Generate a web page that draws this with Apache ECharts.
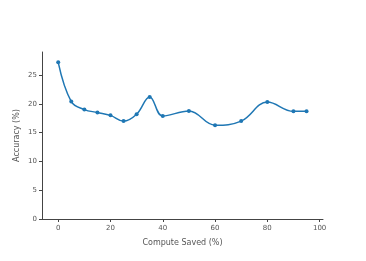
<!DOCTYPE html>
<html><head><meta charset="utf-8">
<script src="https://cdn.jsdelivr.net/npm/echarts@6/dist/echarts.min.js"></script>
<style>html,body{margin:0;padding:0;background:#fff}#c{width:366px;height:261px}</style>
</head><body><div id="c"></div>
<script>
const computeSaved = [0, 5, 10, 15, 20, 25, 30, 35, 40, 50, 60, 70, 80, 90, 95];
const accuracy = [27.2, 20.4, 19.0, 18.5, 18.0, 17.0, 18.2, 21.2, 17.9, 18.75, 16.3, 17.0, 20.3, 18.7, 18.7];
const xTicks = [0, 20, 40, 60, 80, 100];
const yTicks = [0, 5, 10, 15, 20, 25];

const chart = echarts.init(document.getElementById('c'), null, {renderer: 'canvas'});
const font = 'DejaVu Sans, Verdana, sans-serif';
const axisCol = '#444';
chart.setOption({
  animation: false,
  grid: {left: 42, right: 43, top: 52, bottom: 42},
  xAxis: {
    type: 'value', min: -6.2, max: 101.3,
    name: 'Compute Saved (%)', nameLocation: 'middle', nameGap: 20, nameMoveOverlap: false,
    nameTextStyle: {color: '#555', fontSize: 8, fontFamily: font},
    axisLine: {onZero: false, lineStyle: {color: axisCol, width: 1}},
    axisTick: {show: true, length: 3, lineStyle: {color: axisCol}, customValues: xTicks},
    axisLabel: {color: '#555', fontSize: 7, fontFamily: font, margin: 6, customValues: xTicks},
    splitLine: {show: false}
  },
  yAxis: {
    type: 'value', min: 0, max: 29,
    name: 'Accuracy (%)', nameLocation: 'middle', nameGap: 21, nameMoveOverlap: false,
    nameTextStyle: {color: '#555', fontSize: 8, fontFamily: font},
    axisLine: {show: true, onZero: false, lineStyle: {color: axisCol, width: 1}},
    axisTick: {show: true, length: 3, lineStyle: {color: axisCol}, customValues: yTicks},
    axisLabel: {color: '#555', fontSize: 7, fontFamily: font, margin: 5, customValues: yTicks},
    splitLine: {show: false}
  },
  series: [{
    type: 'line',
    data: computeSaved.map((x, i) => [x, accuracy[i]]),
    smooth: 0.4,
    symbol: 'circle', symbolSize: 4,
    lineStyle: {color: '#1f77b4', width: 1.5},
    itemStyle: {color: '#1f77b4'}
  }]
});
</script></body></html>
